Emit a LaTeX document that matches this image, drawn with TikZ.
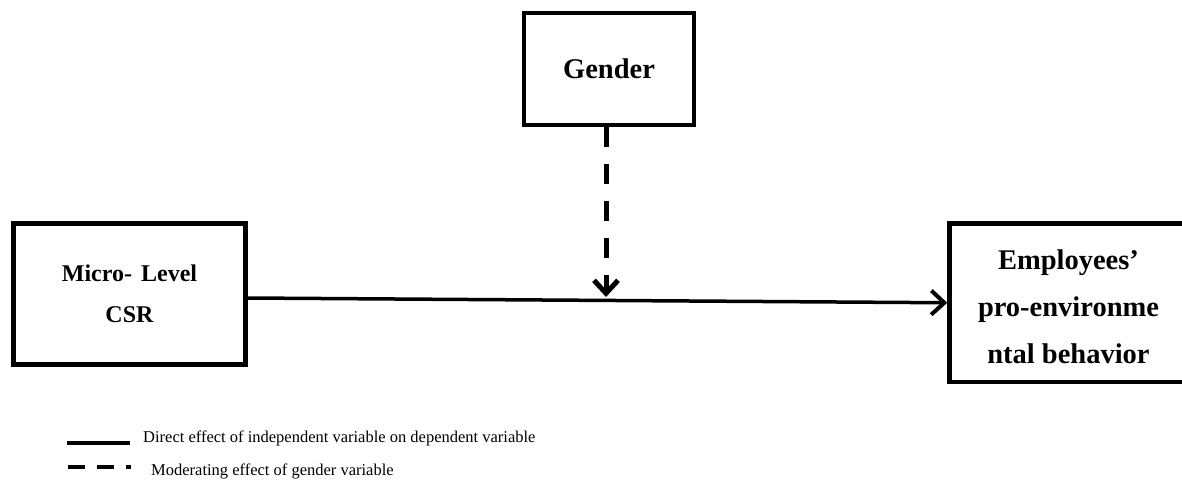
\documentclass[tikz,border=0pt]{standalone}
\usepackage{fontspec}
\setmainfont{Liberation Serif}
\usetikzlibrary{arrows.meta}
\tikzset{
  box/.style={draw=black, line width=4.5pt, fill=white, align=center, inner sep=0pt},
  conn/.style={line width=3.5pt, -{Straight Barb[length=13pt,width=24pt,line width=4pt]}},
  modconn/.style={line width=5pt, dash pattern=on 20pt off 17pt, -{Straight Barb[length=13pt,width=24pt,line width=5pt]}},
  legtext/.style={anchor=base west, inner sep=0pt, font=\fontsize{16.5}{20}\selectfont},
}
\begin{document}
\begin{tikzpicture}[x=1pt,y=-1pt]
\useasboundingbox (0,0) rectangle (1182,489);
\node[box, minimum width=232pt, minimum height=141pt, font=\bfseries\fontsize{24}{41}\selectfont] (micro) at (129.5,294) {Micro-\hspace{3pt} Level\\CSR};
\node[box, minimum width=170pt, minimum height=112pt, font=\bfseries\fontsize{28.5}{34}\selectfont] (gender) at (609,69) {Gender};
\node[box, minimum width=238pt, minimum height=158.5pt] (emp) at (1068.5,302.75) {};
\node[align=center, inner sep=0pt, font=\bfseries\fontsize{28.5}{47}\selectfont] (emptext) at (1068.5,307) {Employees’\\pro-environme\\ntal behavior};
\coordinate (modend) at (606,297);
\draw[conn] ([yshift=-4pt]micro.east) -- (emp.west);
\draw[modconn] ([xshift=-3pt]gender.south) -- (modend);
% legend
\coordinate (l1a) at (67,443);
\coordinate (l1b) at (130,443);
\coordinate (l2a) at (68,467);
\coordinate (l2b) at (131,467);
\draw[line width=4.5pt] (l1a) -- (l1b);
\draw[line width=4.5pt, dash pattern=on 17pt off 12pt] (l2a) -- (l2b);
\node[legtext] (lt1) at (143,442) {Direct effect of independent variable on dependent variable};
\node[legtext] (lt2) at (151,475) {Moderating effect of gender variable};
\end{tikzpicture}
\end{document}
